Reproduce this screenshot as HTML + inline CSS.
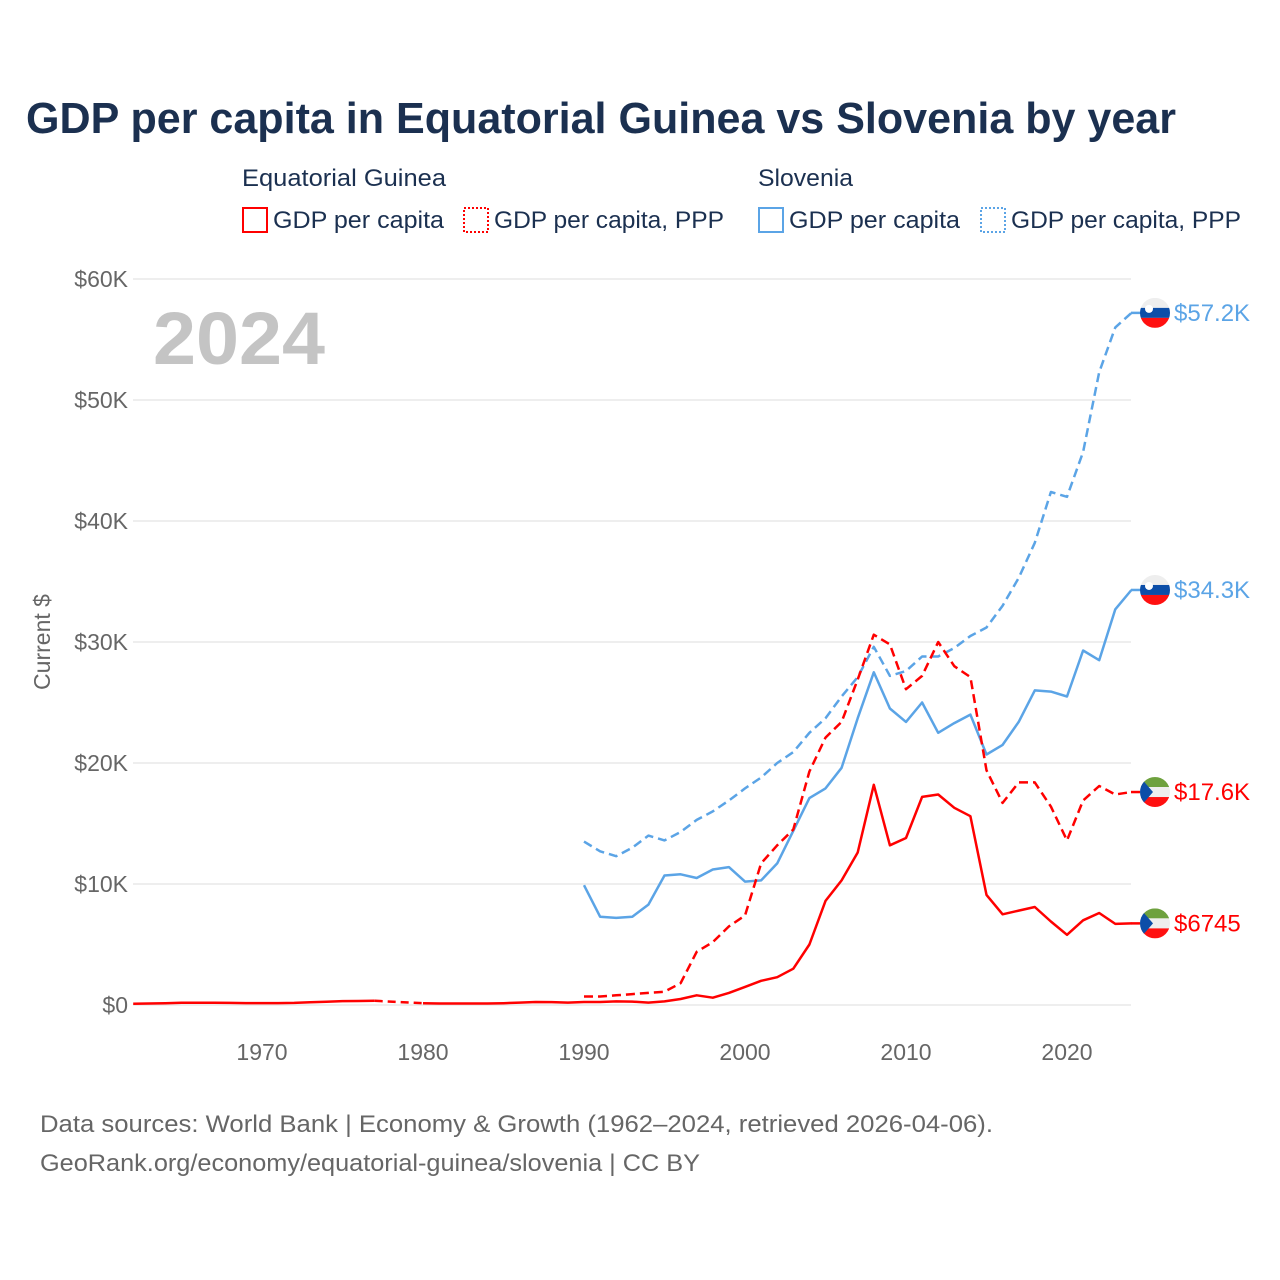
<!DOCTYPE html>
<html><head><meta charset="utf-8"><style>
body{margin:0;background:#fff;}
svg{display:block;font-family:"Liberation Sans",sans-serif;}
</style></head><body>
<svg id="chart" width="1280" height="1280" viewBox="0 0 1280 1280">
<text x="26" y="133" font-size="44" font-weight="bold" fill="#1b3050" textLength="1150" lengthAdjust="spacingAndGlyphs">GDP per capita in Equatorial Guinea vs Slovenia by year</text>
<g font-size="24" fill="#1b3050">
<text x="242" y="186" textLength="204" lengthAdjust="spacingAndGlyphs">Equatorial Guinea</text>
<text x="758" y="186" textLength="95" lengthAdjust="spacingAndGlyphs">Slovenia</text>
<g><rect x="243" y="208" width="24" height="24" fill="none" stroke="#ff0000" stroke-width="2"/><text x="273" y="228" textLength="171" lengthAdjust="spacingAndGlyphs">GDP per capita</text></g>
<g><rect x="464" y="208" width="24" height="24" fill="none" stroke="#ff0000" stroke-width="2" stroke-dasharray="2,2"/><text x="494" y="228" textLength="230" lengthAdjust="spacingAndGlyphs">GDP per capita, PPP</text></g>
<g><rect x="759" y="208" width="24" height="24" fill="none" stroke="#5ba4e6" stroke-width="2"/><text x="789" y="228" textLength="171" lengthAdjust="spacingAndGlyphs">GDP per capita</text></g>
<g><rect x="981" y="208" width="24" height="24" fill="none" stroke="#5ba4e6" stroke-width="2" stroke-dasharray="2,2"/><text x="1011" y="228" textLength="230" lengthAdjust="spacingAndGlyphs">GDP per capita, PPP</text></g>
</g>
<text x="153" y="364" font-size="74" font-weight="bold" fill="#c4c4c4" textLength="172" lengthAdjust="spacingAndGlyphs">2024</text>
<text transform="translate(50,642) rotate(-90)" text-anchor="middle" font-size="23" fill="#666">Current $</text>
<g id="grid"></g><g id="lines"></g><g id="ends"></g>
<text x="40" y="1132" font-size="24" fill="#666" textLength="953" lengthAdjust="spacingAndGlyphs">Data sources: World Bank | Economy &amp; Growth (1962–2024, retrieved 2026-04-06).</text>
<text x="40" y="1171" font-size="24" fill="#666" textLength="660" lengthAdjust="spacingAndGlyphs">GeoRank.org/economy/equatorial-guinea/slovenia | CC BY</text>
</svg>
<script>
const yTicks=[0,10,20,30,40,50,60];
const xTicks=[1970,1980,1990,2000,2010,2020];
const years9024=[];for(let y=1990;y<=2024;y++)years9024.push(y);
const siPPP=[13.5,12.7,12.3,13.0,14.0,13.6,14.3,15.3,16.0,16.9,17.9,18.8,20.0,20.9,22.5,23.7,25.5,27.1,29.6,27.2,27.6,28.8,28.8,29.5,30.5,31.2,33.0,35.3,38.2,42.4,42.0,45.7,52.3,56.0,57.2];
const siGDP=[9.9,7.3,7.2,7.3,8.3,10.7,10.8,10.5,11.2,11.4,10.2,10.3,11.7,14.4,17.1,17.9,19.6,23.7,27.5,24.5,23.4,25.0,22.5,23.3,24.0,20.7,21.5,23.4,26.0,25.9,25.5,29.3,28.5,32.7,34.3];
const gqPPP=[0.7,0.7,0.8,0.9,1.0,1.1,1.8,4.4,5.2,6.5,7.4,11.7,13.2,14.5,19.3,22.1,23.4,26.9,30.6,29.8,26.1,27.2,30.0,28.0,27.1,19.4,16.7,18.4,18.4,16.4,13.6,16.9,18.1,17.4,17.6];
const gqYearsA=[1962,1963,1964,1965,1966,1967,1968,1969,1970,1971,1972,1973,1974,1975,1976,1977];
const gqGDPA=[0.1,0.12,0.15,0.18,0.18,0.18,0.17,0.16,0.16,0.16,0.17,0.22,0.27,0.32,0.33,0.35];
const gqYearsB=[1980,1981,1982,1983,1984,1985,1986,1987,1988,1989,1990,1991,1992,1993,1994,1995,1996,1997,1998,1999,2000,2001,2002,2003,2004,2005,2006,2007,2008,2009,2010,2011,2012,2013,2014,2015,2016,2017,2018,2019,2020,2021,2022,2023,2024];
const gqGDPB=[0.15,0.12,0.12,0.12,0.12,0.15,0.2,0.25,0.24,0.2,0.25,0.25,0.3,0.28,0.2,0.3,0.5,0.8,0.6,1.0,1.5,2.0,2.3,3.0,5.0,8.6,10.3,12.6,18.2,13.2,13.8,17.2,17.4,16.3,15.6,9.1,7.5,7.8,8.1,6.9,5.8,7.0,7.6,6.7,6.745];
const endLabels=["$57.2K","$34.3K","$17.6K","$6745"];
const X=y=>262+(y-1970)*16.1, Y=v=>1005-v*12.1;
const NS="http://www.w3.org/2000/svg";
function mk(tag,attrs,parent){const e=document.createElementNS(NS,tag);for(const k in attrs)e.setAttribute(k,attrs[k]);parent.appendChild(e);return e;}
const grid=document.getElementById('grid'),lines=document.getElementById('lines'),ends=document.getElementById('ends');
yTicks.forEach(t=>{
 const l=mk('line',{x1:133,x2:1131,y1:Y(t),y2:Y(t),stroke:'#e8e8e8','stroke-width':1.5},grid);
 
 
 const tx=mk('text',{x:128,y:Y(t)+8,'text-anchor':'end','font-size':23,fill:'#666'},grid);
 tx.textContent='$'+t+(t?'K':'');
 
 
});
xTicks.forEach(t=>{
 const tx=mk('text',{x:X(t),y:1060,'text-anchor':'middle','font-size':23,fill:'#666'},grid);
 tx.textContent=t;
 
 
});
function path(xs,vs,color,dash,name){
 const d=xs.map((y,i)=>(i?'L':'M')+X(y).toFixed(1)+','+Y(vs[i]).toFixed(1)).join('');
 const p=mk('path',{d:d,fill:'none',stroke:color,'stroke-width':2.5,'stroke-linejoin':'round'},lines);
 if(dash)p.setAttribute('stroke-dasharray',dash);
 
 
}
const RED='#ff0000',BLUE='#5ba4e6';
path(years9024,siPPP,BLUE,'9,5','line-slovenia-ppp');
path(years9024,siGDP,BLUE,null,'line-slovenia-gdp');
path(years9024,gqPPP,RED,'9,5','line-equatorial-guinea-ppp');
path(gqYearsA,gqGDPA,RED,null,'line-equatorial-guinea-gdp-early');
path([gqYearsA[gqYearsA.length-1],gqYearsB[0]],[gqGDPA[gqGDPA.length-1],gqGDPB[0]],RED,'8,5','line-equatorial-guinea-gdp-gap');
path(gqYearsB,gqGDPB,RED,null,'line-equatorial-guinea-gdp');
const finals=[siPPP[siPPP.length-1],siGDP[siGDP.length-1],gqPPP[gqPPP.length-1],gqGDPB[gqGDPB.length-1]];
const cols=[BLUE,BLUE,RED,RED],flags=['si','si','gq','gq'];
finals.forEach((v,i)=>{
 const cx=1155,cy=Y(v);
 const g=mk('g',{},ends);
 
 
 mk('line',{x1:1131,x2:1141,y1:cy,y2:cy,stroke:cols[i],'stroke-width':2.5},g);
 const id='c'+i;
 const cp=mk('clipPath',{id:id},g);mk('circle',{cx:cx,cy:cy,r:15},cp);
 const gg=mk('g',{'clip-path':'url(#'+id+')'},g);
 if(flags[i]==='si'){
  mk('rect',{x:cx-15,y:cy-15,width:30,height:10,fill:'#eee'},gg);
  mk('rect',{x:cx-15,y:cy-5,width:30,height:10,fill:'#0c4ea8'},gg);
  mk('rect',{x:cx-15,y:cy+5,width:30,height:10,fill:'#ff1010'},gg);
  mk('circle',{cx:cx-6,cy:cy-4,r:4,fill:'#fff'},gg);
 }else{
  mk('rect',{x:cx-15,y:cy-15,width:30,height:10,fill:'#6ea13e'},gg);
  mk('rect',{x:cx-15,y:cy-5,width:30,height:10,fill:'#eee'},gg);
  mk('rect',{x:cx-15,y:cy+5,width:30,height:10,fill:'#ff1010'},gg);
  mk('polygon',{points:(cx-15)+','+(cy-15)+' '+(cx-2)+','+cy+' '+(cx-15)+','+(cy+15),fill:'#0c4ea8'},gg);
 }
 const t=mk('text',{x:1174,y:cy+8,'font-size':24,fill:cols[i]},ends);
 t.textContent=endLabels[i];
 
 
});
</script>
</body></html>
